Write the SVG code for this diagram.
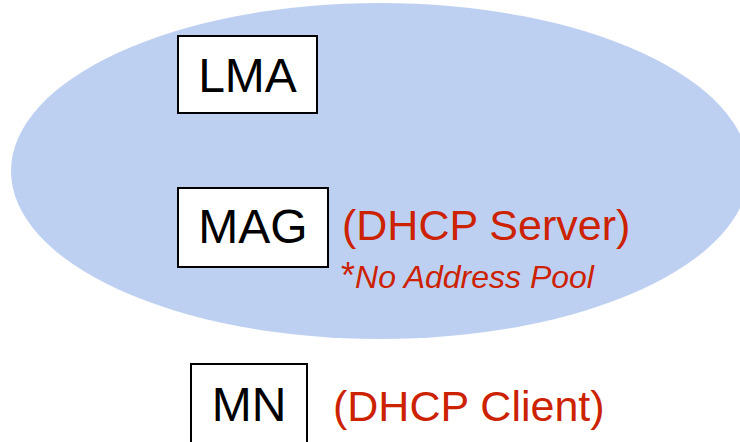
<svg xmlns="http://www.w3.org/2000/svg" width="740" height="442" viewBox="0 0 740 442">
<style>
.box{fill:#fff;stroke:#000;stroke-width:2}
.lbl{font-family:"Liberation Sans",Arial,sans-serif;font-size:48px;fill:#000;text-anchor:middle}
.red{font-family:"Liberation Sans",Arial,sans-serif;fill:#CC2200}
</style>
<rect width="740" height="442" fill="#fff"/>
<ellipse id="domain" cx="380" cy="171" rx="369" ry="168" fill="#BED0F2"/>
<g id="lma">
<rect class="box" x="178" y="36" width="139" height="77"/>
<text class="lbl" x="247.5" y="92">LMA</text>
</g>
<g id="mag">
<rect class="box" x="178" y="188" width="150" height="79"/>
<text class="lbl" x="253" y="243">MAG</text>
<text class="red" x="342" y="240" font-size="43">(DHCP Server)</text>
<text class="red" x="341" y="288" font-size="36">*<tspan font-style="italic" font-size="32" dx="0">No Address Pool</tspan></text>
</g>
<g id="mn">
<rect class="box" x="191" y="364" width="116" height="90"/>
<text class="lbl" x="249" y="421" font-size="46">MN</text>
<text class="red" x="333" y="421" font-size="43">(DHCP Client)</text>
</g>
<g id="connectors"/>
</svg>
